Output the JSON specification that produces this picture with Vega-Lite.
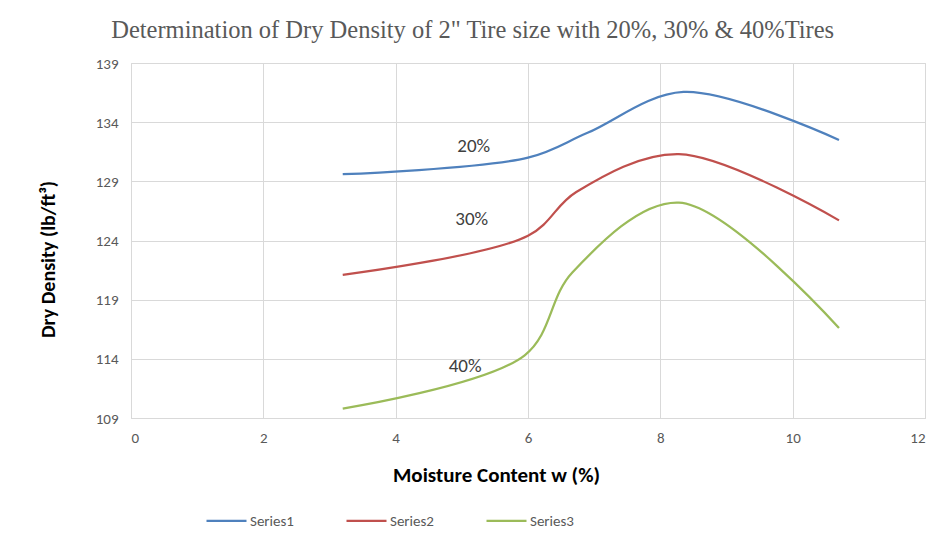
{
  "$schema": "https://vega.github.io/schema/vega-lite/v6.json",
  "width": 794,
  "height": 355,
  "autosize": {"type": "none"},
  "padding": {"left": 131, "top": 63, "right": 13, "bottom": 127},
  "background": "white",
  "config": {
    "view": {"stroke": "#d9d9d9", "strokeWidth": 1},
    "font": "Carlito, Lato, sans-serif"
  },
  "title": {
    "text": "Determination of Dry Density of 2\" Tire size with 20%, 30%  & 40%Tires",
    "font": "Liberation Serif",
    "fontSize": 24.5,
    "fontWeight": "normal",
    "color": "#595959",
    "anchor": "start",
    "dx": 73,
    "offset": 13
  },
  "datasets": {
    "curves": [
      {"series": "Series1", "w": 3.2, "dd": 129.6},
      {"series": "Series1", "w": 6.0, "dd": 131.0},
      {"series": "Series1", "w": 6.9, "dd": 133.1},
      {"series": "Series1", "w": 8.35, "dd": 136.55},
      {"series": "Series1", "w": 10.7, "dd": 132.5},
      {"series": "Series2", "w": 3.2, "dd": 121.1},
      {"series": "Series2", "w": 6.0, "dd": 124.4},
      {"series": "Series2", "w": 6.73, "dd": 128.1},
      {"series": "Series2", "w": 8.28, "dd": 131.3},
      {"series": "Series2", "w": 10.7, "dd": 125.7},
      {"series": "Series3", "w": 3.2, "dd": 109.8},
      {"series": "Series3", "w": 5.95, "dd": 114.3},
      {"series": "Series3", "w": 6.67, "dd": 121.3},
      {"series": "Series3", "w": 8.28, "dd": 127.2},
      {"series": "Series3", "w": 10.7, "dd": 116.6}
    ],
    "labels": [
      {"w": 5.18, "dd": 132.0, "label": "20%"},
      {"w": 5.15, "dd": 125.8, "label": "30%"},
      {"w": 5.05, "dd": 113.4, "label": "40%"}
    ]
  },
  "layer": [
    {
      "data": {"name": "curves"},
      "mark": {"type": "line", "interpolate": "catmull-rom", "strokeWidth": 2.25},
      "encoding": {
        "x": {
          "field": "w", "type": "quantitative",
          "scale": {"domain": [0, 12], "nice": false},
          "axis": {
            "title": "Moisture Content w (%)",
            "values": [0, 2, 4, 6, 8, 10, 12],
            "format": "d",
            "grid": true, "gridColor": "#d9d9d9",
            "domain": true, "domainColor": "#d9d9d9",
            "ticks": false,
            "labelFontSize": 15, "labelColor": "#595959", "labelPadding": 12,
            "titleFontSize": 21, "titleFontWeight": "bold", "titleColor": "#000000",
            "titlePadding": 19,
            "titleX": 365
          }
        },
        "y": {
          "field": "dd", "type": "quantitative",
          "scale": {"domain": [109, 139], "nice": false, "zero": false},
          "axis": {
            "title": "Dry Density (lb/ft³)",
            "values": [109, 114, 119, 124, 129, 134, 139],
            "grid": true, "gridColor": "#d9d9d9",
            "domain": false, "ticks": false,
            "labelFontSize": 15, "labelColor": "#595959", "labelPadding": 13,
            "titleFontSize": 20, "titleFontWeight": "bold", "titleColor": "#000000",
            "titlePadding": 37,
            "titleY": 196
          }
        },
        "color": {
          "field": "series", "type": "nominal",
          "scale": {"domain": ["Series1", "Series2", "Series3"], "range": ["#4F81BD", "#C0504D", "#9BBB59"]},
          "legend": {
            "title": null,
            "orient": "none",
            "direction": "horizontal",
            "legendX": 74,
            "legendY": 436,
            "symbolType": "stroke",
            "symbolSize": 1600,
            "symbolStrokeWidth": 2.25,
            "labelFontSize": 15,
            "labelColor": "#595959",
            "labelOffset": 2,
            "columnPadding": 48
          }
        }
      }
    },
    {
      "data": {"name": "labels"},
      "mark": {"type": "text", "fontSize": 19, "color": "#404040"},
      "encoding": {
        "x": {"field": "w", "type": "quantitative"},
        "y": {"field": "dd", "type": "quantitative"},
        "text": {"field": "label"}
      }
    }
  ]
}
